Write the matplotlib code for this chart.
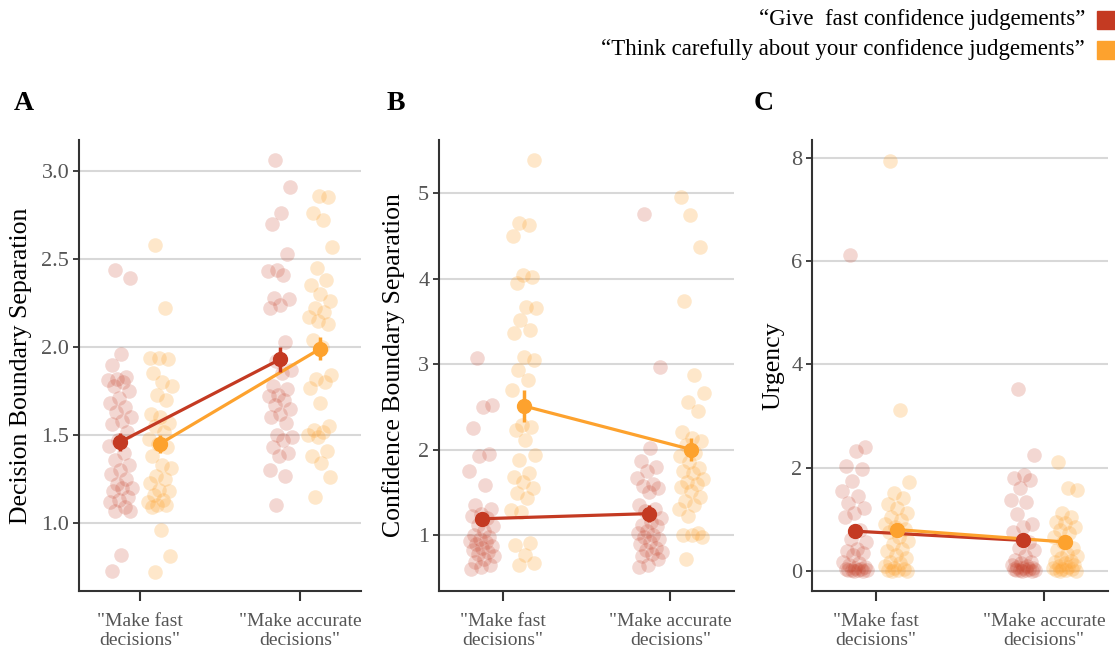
import matplotlib
matplotlib.use("Agg")
import matplotlib.pyplot as plt
import numpy as np
from matplotlib.patches import Rectangle

plt.rcParams['font.family'] = ['Liberation Serif', 'DejaVu Serif']

# ---------------- data ----------------
conditions = ['"Make fast\ndecisions"', '"Make accurate\ndecisions"']
legend_labels = ['\u201cGive  fast confidence judgements\u201d',
                 '\u201cThink carefully about your confidence judgements\u201d']
panel_letters = ['A', 'B', 'C']
y_labels = ['Decision Boundary Separation', 'Confidence Boundary Separation', 'Urgency']

# Panel A: decision boundary separation
red_A_fast = [2.44, 2.39, 1.96, 1.90, 1.83, 1.82, 1.81, 1.80, 1.78, 1.75, 1.71, 1.68, 1.66,
              1.63, 1.60, 1.58, 1.56, 1.52, 1.47, 1.44, 1.40, 1.36, 1.33, 1.30, 1.28, 1.25,
              1.22, 1.20, 1.20, 1.18, 1.15, 1.13, 1.12, 1.09, 1.07, 1.07, 0.82, 0.73]
orange_A_fast = [2.58, 2.22, 1.94, 1.94, 1.93, 1.85, 1.80, 1.78, 1.73, 1.70, 1.62, 1.60, 1.57,
                 1.55, 1.52, 1.48, 1.45, 1.43, 1.38, 1.33, 1.31, 1.27, 1.25, 1.23, 1.19, 1.18,
                 1.16, 1.13, 1.12, 1.10, 1.10, 1.09, 0.96, 0.81, 0.72]
red_A_acc = [3.06, 2.91, 2.76, 2.70, 2.53, 2.44, 2.43, 2.41, 2.28, 2.27, 2.24, 2.22, 2.03,
             1.92, 1.87, 1.85, 1.78, 1.76, 1.73, 1.72, 1.70, 1.67, 1.65, 1.62, 1.60, 1.57,
             1.50, 1.49, 1.47, 1.43, 1.40, 1.38, 1.30, 1.27, 1.10]
orange_A_acc = [2.86, 2.85, 2.76, 2.72, 2.57, 2.45, 2.38, 2.35, 2.30, 2.26, 2.22, 2.20, 2.17,
                2.15, 2.13, 2.04, 2.00, 1.84, 1.82, 1.80, 1.77, 1.68, 1.55, 1.53, 1.52, 1.50,
                1.49, 1.41, 1.38, 1.34, 1.26, 1.15]
mean_A_red = [1.46, 1.93]
se_A_red = [0.05, 0.07]
mean_A_orange = [1.45, 1.99]
se_A_orange = [0.05, 0.065]

# Panel B: confidence boundary separation
red_B_fast = [3.07, 2.52, 2.50, 2.25, 1.95, 1.92, 1.75, 1.58, 1.35, 1.30, 1.25, 1.22, 1.20,
              1.12, 1.10, 1.05, 1.00, 0.98, 0.95, 0.93, 0.92, 0.90, 0.87, 0.85, 0.82, 0.80,
              0.78, 0.75, 0.72, 0.68, 0.65, 0.62, 0.60]
orange_B_fast = [5.39, 4.65, 4.62, 4.50, 4.04, 4.02, 3.95, 3.67, 3.66, 3.51, 3.40, 3.36, 3.08,
                 3.05, 2.93, 2.81, 2.70, 2.29, 2.26, 2.23, 2.11, 1.94, 1.88, 1.73, 1.68, 1.62,
                 1.55, 1.49, 1.43, 1.29, 1.27, 0.91, 0.88, 0.77, 0.67, 0.65]
red_B_acc = [4.76, 2.96, 2.02, 1.87, 1.80, 1.75, 1.67, 1.60, 1.57, 1.55, 1.50, 1.35, 1.30,
             1.28, 1.20, 1.15, 1.12, 1.10, 1.05, 1.02, 1.00, 0.98, 0.95, 0.92, 0.90, 0.85,
             0.82, 0.80, 0.78, 0.75, 0.72, 0.65, 0.62]
orange_B_acc = [4.95, 4.74, 4.37, 3.74, 2.87, 2.66, 2.55, 2.45, 2.20, 2.14, 2.10, 2.05, 1.96,
                1.92, 1.85, 1.78, 1.75, 1.72, 1.66, 1.62, 1.60, 1.56, 1.52, 1.45, 1.40, 1.35,
                1.30, 1.22, 1.02, 1.00, 1.00, 0.98, 0.72]
mean_B_red = [1.19, 1.25]
se_B_red = [0.05, 0.10]
mean_B_orange = [2.51, 2.00]
se_B_orange = [0.19, 0.14]

# Panel C: urgency
red_C_fast = [6.12, 2.40, 2.33, 2.03, 1.98, 1.75, 1.55, 1.45, 1.32, 1.22, 1.12, 1.05, 0.80,
              0.62, 0.55, 0.42, 0.38, 0.35, 0.30, 0.18, 0.15, 0.12, 0.08, 0.05, 0.04, 0.03,
              0.02, 0.02, 0.01, 0.01, 0.00, 0.00]
orange_C_fast = [7.95, 3.12, 1.72, 1.50, 1.42, 1.30, 1.22, 1.12, 1.05, 0.98, 0.90, 0.85, 0.82,
                 0.75, 0.66, 0.58, 0.52, 0.42, 0.38, 0.30, 0.25, 0.18, 0.15, 0.10, 0.06, 0.04,
                 0.02, 0.01, 0.00, 0.00]
red_C_acc = [3.52, 2.25, 1.85, 1.80, 1.76, 1.60, 1.38, 1.33, 1.10, 0.90, 0.85, 0.75, 0.55,
             0.45, 0.40, 0.28, 0.22, 0.18, 0.15, 0.12, 0.10, 0.08, 0.06, 0.05, 0.04, 0.03,
             0.02, 0.02, 0.01, 0.01, 0.00, 0.00]
orange_C_acc = [2.11, 1.60, 1.56, 1.12, 1.05, 0.95, 0.92, 0.85, 0.80, 0.74, 0.65, 0.55, 0.45,
                0.40, 0.32, 0.28, 0.25, 0.20, 0.18, 0.15, 0.12, 0.10, 0.08, 0.05, 0.04, 0.03,
                0.02, 0.01, 0.00, 0.00]
mean_C_red = [0.77, 0.59]
se_C_red = [0.13, 0.06]
mean_C_orange = [0.80, 0.56]
se_C_orange = [0.13, 0.06]

y_ticks_A = [1.0, 1.5, 2.0, 2.5, 3.0]
y_ticks_B = [1, 2, 3, 4, 5]
y_ticks_C = [0, 2, 4, 6, 8]

# ---------------- style ----------------
RED = '#C43A22'
ORANGE = '#FDA22E'
GRID = '#D8D8D8'
SPINE = '#333333'
TICKC = '#555555'

fig = plt.figure(figsize=(11.15, 6.5), dpi=100)
W, H = 1115.0, 650.0

def ax_at(x0, x1, ytop, ybot):
    return fig.add_axes([x0 / W, 1 - ybot / H, (x1 - x0) / W, (ybot - ytop) / H])

axA = ax_at(79, 361, 140, 591)
axB = ax_at(439, 734, 140, 591)
axC = ax_at(812, 1108, 140, 591)

panels = [
    (axA, [red_A_fast, red_A_acc], [orange_A_fast, orange_A_acc], mean_A_red, se_A_red,
     mean_A_orange, se_A_orange, y_ticks_A, (0.614, 3.176), '{:.1f}', -0.167),
    (axB, [red_B_fast, red_B_acc], [orange_B_fast, orange_B_acc], mean_B_red, se_B_red,
     mean_B_orange, se_B_orange, y_ticks_B, (0.345, 5.62), '{:d}', -0.115),
    (axC, [red_C_fast, red_C_acc], [orange_C_fast, orange_C_acc], mean_C_red, se_C_red,
     mean_C_orange, se_C_orange, y_ticks_C, (-0.39, 8.35), '{:d}', -0.092),
]

DODGE = 0.125
JIT = 0.075

def jitter(n):
    return ((np.arange(n) * 0.6180339887 + 0.3) % 1.0 - 0.5) * 2 * JIT

xpos = np.array([1.0, 2.0])

for i, (ax, reds, oranges, mr, sr, mo, so, yt, ylim, fmt, ylx) in enumerate(panels):
    for k in range(2):
        r = np.array(reds[k])
        o = np.array(oranges[k])
        ax.scatter(xpos[k] - DODGE + jitter(len(r)), r, s=110, color=RED, alpha=0.2,
                   linewidths=0, zorder=2)
        ax.scatter(xpos[k] + DODGE + jitter(len(o))[::-1], o, s=110, color=ORANGE, alpha=0.25,
                   linewidths=0, zorder=2)
    for means, ses, col, off in [(mr, sr, RED, -DODGE), (mo, so, ORANGE, DODGE)]:
        ax.plot(xpos + off, means, color=col, lw=2.3, zorder=4, solid_capstyle='butt')
        ax.errorbar(xpos + off, means, yerr=ses, fmt='o', color=col, ms=10, elinewidth=2.5,
                    capsize=0, zorder=5)
    ax.set_xlim(0.62, 2.38)
    ax.set_ylim(*ylim)
    ax.set_yticks(yt)
    ax.set_yticklabels([fmt.format(v) for v in yt])
    ax.set_xticks(xpos)
    ax.set_xticklabels(conditions, linespacing=1.1)
    for sp in ['top', 'right']:
        ax.spines[sp].set_visible(False)
    for sp in ['left', 'bottom']:
        ax.spines[sp].set_color(SPINE)
        ax.spines[sp].set_linewidth(1.5)
    ax.yaxis.grid(True, color=GRID, lw=1.5, zorder=0)
    ax.set_axisbelow(True)
    ax.tick_params(axis='x', length=7, width=1.5, color=SPINE, labelsize=14, labelcolor=TICKC,
                   pad=9)
    ax.tick_params(axis='y', length=4, width=1.3, color=SPINE, labelsize=16, labelcolor=TICKC,
                   pad=3)
    ax.set_ylabel(y_labels[i], fontsize=18.5, color='black')
    ax.yaxis.set_label_coords(ylx, 0.5)

# panel letters
for letter, x in zip(panel_letters, [24, 396, 764]):
    fig.text(x / W, 1 - 103 / H, letter, fontsize=20, fontweight='bold', ha='center',
             va='center', color='black')

# legend
for j, (lab, col) in enumerate(zip(legend_labels, [RED, ORANGE])):
    yc = [20, 50][j]
    fig.text(1085 / W, 1 - yc / H, lab, fontsize=16.5, ha='right', va='center', color='black')
    fig.patches.append(Rectangle((1097 / W, 1 - (yc + 9) / H), 19 / W, 18 / H,
                                 transform=fig.transFigure, color=col, clip_on=False))

fig.savefig('out.png', dpi=100)
